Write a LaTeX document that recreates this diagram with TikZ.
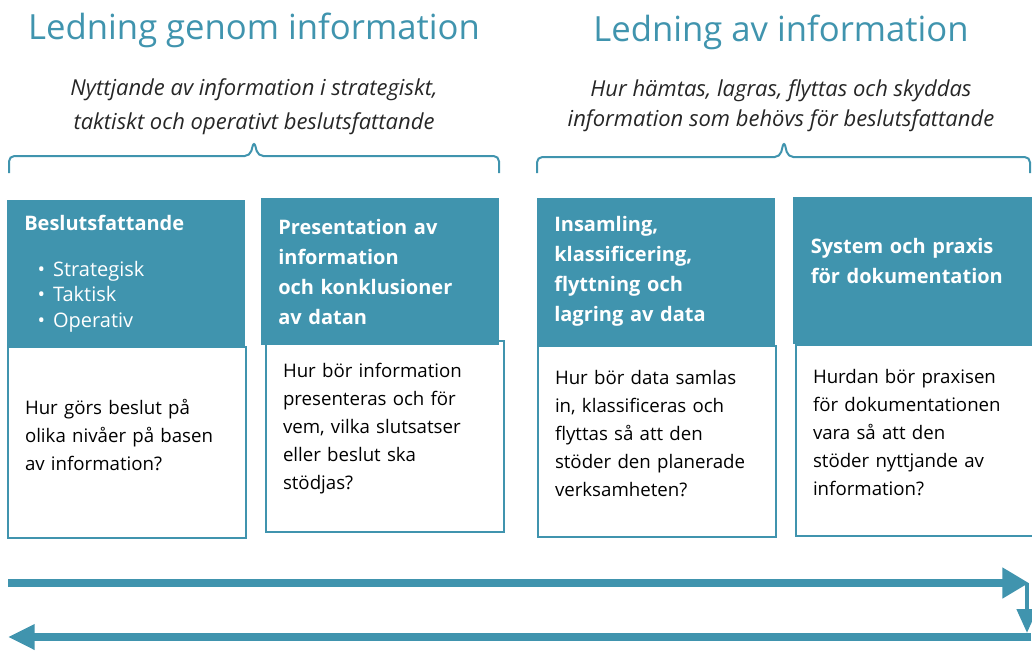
\documentclass[tikz,border=0pt]{standalone}
\usepackage{fontspec}
\setmainfont{Open Sans}
\usetikzlibrary{arrows.meta,positioning}
\definecolor{tealbox}{RGB}{64,148,174}

\begin{document}
\begin{tikzpicture}[x=0.75pt,y=-0.75pt,>={Triangle[length=20pt,width=22pt]}]
  \tikzstyle{heading}=[text=tealbox,font=\fontsize{26}{30}\selectfont]
  \tikzstyle{subhead}=[align=center,text=black!85,font=\fontsize{16.5}{25.5}\selectfont\itshape]
  \tikzstyle{head}=[rectangle,fill=tealbox,text=white,anchor=north west,
              minimum width=178.5pt,minimum height=110pt,text width=153pt,
              inner xsep=12.75pt,align=left,font=\fontsize{15}{22.5}\selectfont\bfseries]
  \tikzstyle{body}=[rectangle,draw=tealbox,line width=1.5pt,fill=white,anchor=north west,
              minimum width=178.5pt,minimum height=143pt,text width=153pt,
              inner xsep=12.75pt,align=left,font=\fontsize{14}{21}\selectfont,
              execute at end node={\endgraf\vspace*{11pt}}]
  \tikzstyle{brace}=[draw=tealbox,line width=1.5pt,rounded corners=4pt]
  \tikzstyle{flow}=[draw=tealbox,line width=6pt,->]
    \useasboundingbox (0,0) rectangle (1032,650);
    % titles
    \node [heading] (t1) at (254,30) {Ledning genom information};
    \node [heading] (t2) at (781,32) {Ledning av information};
    \node [subhead] (s1) at (254,107) {Nyttjande av information i strategiskt,\\taktiskt och operativt beslutsfattande};
    \node [subhead,font=\fontsize{16.5}{22.5}\selectfont\itshape] (s2) at (781,106) {Hur hämtas, lagras, flyttas och skyddas\\information som behövs för beslutsfattande};
    \draw [brace] (9,173) -- (9,156) -- (250,156) -- (254,141) -- (258,156) -- (499,156) -- (499,173);
    \draw [brace] (537,173) -- (537,157) -- (780,157) -- (784,141) -- (788,157) -- (1030,157) -- (1030,173);
    % question boxes
    \node [body] (b1) at (7,346) {Hur görs beslut på\\olika nivåer på basen\\av information?};
    \node [body] (b2) at (265,340) {Hur bör information\\presenteras och för\\vem, vilka slutsatser\\eller beslut ska\\stödjas?};
    \node [body] (b3) at (537,345) {Hur bör data samlas\\in, klassificeras och\\flyttas så att den\\stöder den planerade\\verksamheten?};
    \node [body] (b4) at (795,344) {Hurdan bör praxisen\\för dokumentationen\\vara så att den\\stöder nyttjande av\\information?};
    % headers
    \node [head] (h1) at (7,200) {Beslutsfattande\\[12pt]
      {\mdseries\hspace*{10pt}\textbullet\hspace{6pt}Strategisk}\\[-3.5pt]
      {\mdseries\hspace*{10pt}\textbullet\hspace{6pt}Taktisk}\\[-3.5pt]
      {\mdseries\hspace*{10pt}\textbullet\hspace{6pt}Operativ}};
    \node [head] (h2) at (261,198) {Presentation av\\information\\och konklusioner\\av datan};
    \node [head] (h3) at (537,198) {Insamling,\\klassificering,\\flyttning och\\lagring av data};
    \node [head,minimum width=179.25pt,execute at end node={\endgraf\vspace*{14pt}}] (h4) at (793,197) {System och praxis\\för dokumentation};
    % flow arrows
    \coordinate (f1) at (8,583);
    \coordinate (f2) at (1029,583);
    \coordinate (f3) at (1027,583);
    \coordinate (f4) at (1027,633);
    \coordinate (g1) at (1031,637);
    \coordinate (g2) at (8,637);
    \draw [flow] (f1) -- (f2);
    \draw [flow,line width=3.5pt,-{Triangle[length=18pt,width=15pt]}] (f3) -- (f4);
    \draw [flow,-{Triangle[length=20pt,width=18pt]}] (g1) -- (g2);
\end{tikzpicture}
\end{document}
